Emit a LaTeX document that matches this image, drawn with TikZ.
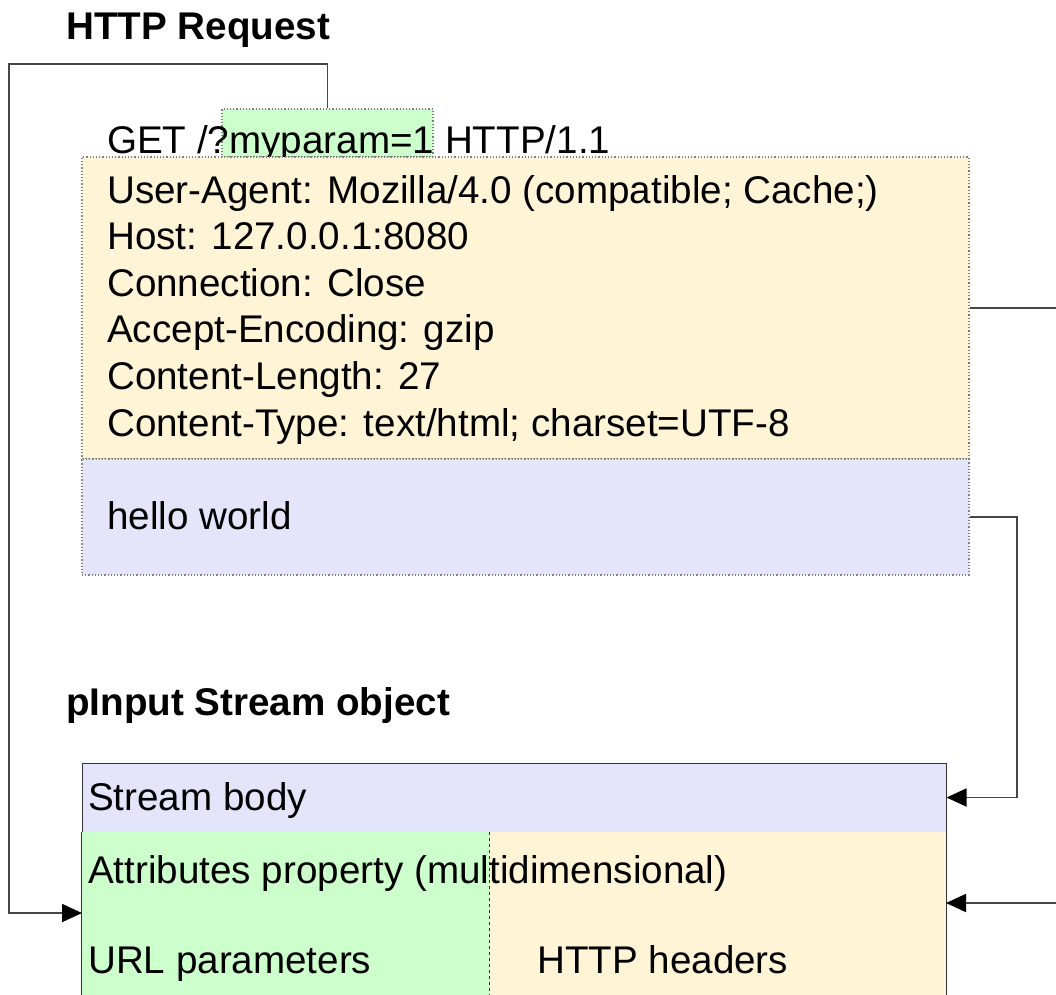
\documentclass[tikz,border=0pt]{standalone}
\usepackage{fontspec}
\setmainfont{Liberation Sans}
\usetikzlibrary{arrows.meta}

\definecolor{paramgreen}{RGB}{204,255,204}
\definecolor{headeryellow}{RGB}{255,245,214}
\definecolor{bodylavender}{RGB}{228,228,250}
\definecolor{linegray}{RGB}{70,70,70}

\tikzset{
  txt/.style={anchor=base west, inner sep=0pt, font=\fontsize{38.6}{46.6}\selectfont},
  headtxt/.style={txt, font=\fontsize{38.6}{46.6}\selectfont\bfseries},
  dotbox/.style={draw=gray, dotted, line width=1.2pt, inner sep=0pt},
  fillbox/.style={inner sep=0pt},
  conn/.style={color=linegray, line width=1.8pt, -{Triangle[length=20pt,width=18pt,color=black]}},
}

\begin{document}
\begin{tikzpicture}[%
      x=1pt, y=-1pt,
      ]
      \useasboundingbox (0,0) rectangle (1056,994);
      \clip (0,0) rectangle (1056,994);

      % request
      \node [headtxt] (reqtitle) at (66,39) {HTTP Request};
      \node [dotbox, fill=paramgreen, minimum width=211pt, minimum height=48pt] (param) at (327.5,133) {};
      \node [txt] (getline) at (107,153) {GET /?myparam=1 HTTP/1.1};
      \node [dotbox, fill=headeryellow, minimum width=887pt, minimum height=302pt] (hdrs) at (525.5,308) {};
      \node [txt] (hdr1) at (107,203) {User-Agent: Mozilla/4.0 (compatible; Cache;)};
      \node [txt] (hdr2) at (107,249.6) {Host: 127.0.0.1:8080};
      \node [txt] (hdr3) at (107,296.2) {Connection: Close};
      \node [txt] (hdr4) at (107,342.8) {Accept-Encoding: gzip};
      \node [txt] (hdr5) at (107,389.4) {Content-Length: 27};
      \node [txt] (hdr6) at (107,436) {Content-Type: text/html; charset=UTF-8};
      \node [dotbox, fill=bodylavender, minimum width=887pt, minimum height=116pt] (bodybox) at (525.5,517) {};
      \node [txt] (hello) at (107,529) {hello world};

      % stream object
      \node [headtxt] (objtitle) at (66,715) {pInput Stream object};
      \node [fillbox, draw=black!80, line width=1pt, fill=bodylavender, minimum width=864pt, minimum height=69pt] (streambody) at (514,797.5) {};
      \node [txt] (streamtxt) at (88,810) {Stream body};
      \node [fillbox, fill=paramgreen, minimum width=407pt, minimum height=178pt] (urlpart) at (285.5,921) {};
      \node [fillbox, fill=headeryellow, minimum width=457pt, minimum height=178pt] (hdrpart) at (717.5,921) {};
      \draw [black!80, line width=0.8pt] (urlpart.north west) -- (urlpart.south west);
      \draw [black!80, line width=0.8pt, dashed] (urlpart.north east) -- (urlpart.south east);
      \draw [black!80, line width=0.8pt] (hdrpart.north east) -- (hdrpart.south east);
      \node [txt] (attrtxt) at (88,883) {Attributes property (multidimensional)};
      \node [txt] (urltxt) at (88,973) {URL parameters};
      \node [txt] (hdrtxt) at (537,973) {HTTP headers};

      % connectors
      \coordinate (lefttop) at (9,64);
      \coordinate (urlin) at (82,913);
      \coordinate (hdrin) at (946,903);
      \draw [conn] (param.north) |- (lefttop) |- (urlin);
      \draw [conn] (hdrs.east) -- ++(120,0) |- (hdrin);
      \draw [conn] (bodybox.east) -- ++(47,0) |- (streambody.east);
      \end{tikzpicture}
\end{document}
